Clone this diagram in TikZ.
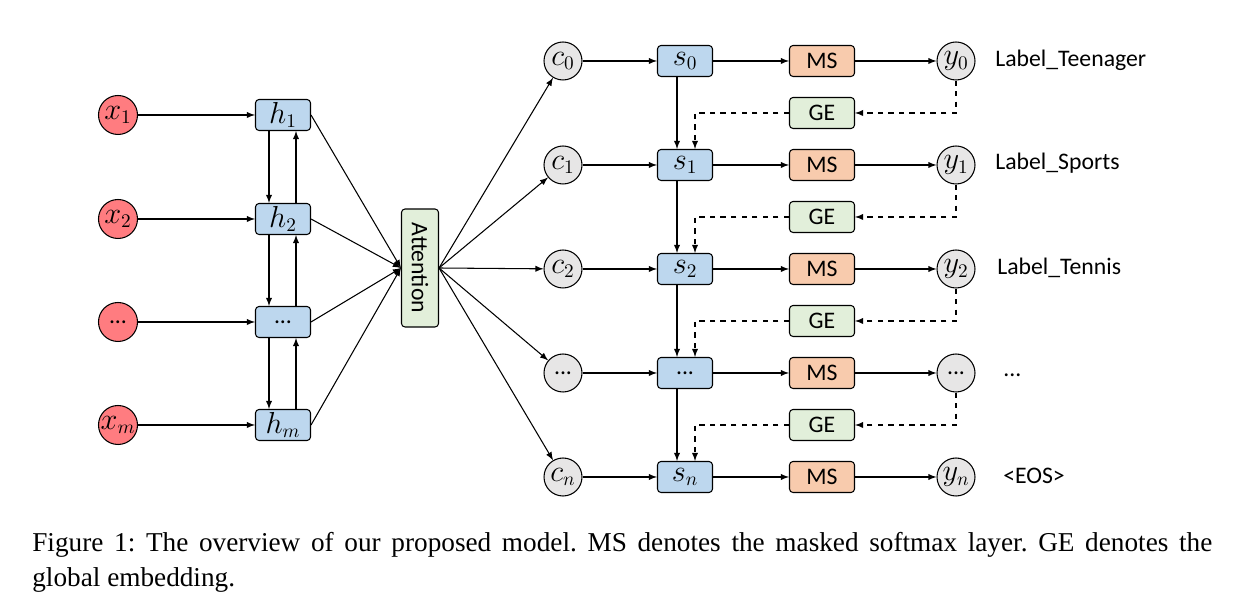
\documentclass[tikz,border=0pt]{standalone}
\usepackage{fontspec}
\setmainfont{Carlito}
\newfontfamily\capfont{Liberation Serif}
\definecolor{xred}{RGB}{255,124,128}
\definecolor{hblue}{RGB}{189,215,238}
\definecolor{attgreen}{RGB}{226,239,218}
\definecolor{msorange}{RGB}{248,203,173}
\definecolor{cgray}{RGB}{231,230,230}
\frenchspacing

\begin{document}
\begin{tikzpicture}[
	every node/.style={font=\fontsize{13.5}{15}\selectfont},
	mfont/.style={font=\fontsize{16}{18}\selectfont},
	inp/.style={circle, draw, line width=0.6pt, fill=xred, minimum size=0.78cm, inner sep=0pt},
	ctx/.style={circle, draw, line width=0.6pt, fill=cgray, minimum size=0.76cm, inner sep=0pt},
	hid/.style={draw, line width=0.6pt, rounded corners=2pt, fill=hblue, minimum width=1.1cm, minimum height=0.62cm, inner sep=0pt},
	msbox/.style={hid, fill=msorange, minimum width=1.3cm},
	gebox/.style={hid, fill=attgreen, minimum width=1.3cm},
	lbl/.style={anchor=west, inner sep=0pt},
	arr/.style={-latex, line width=0.6pt},
	dasharr/.style={arr, dashed}
	]
	\useasboundingbox (0,0) rectangle (24.76,12.24);
	%% encoder
	\node[inp, mfont] (x1) at (2.36,9.94) {$x_1$};
	\node[inp, mfont] (x2) at (2.36,7.86) {$x_2$};
	\node[inp] (x3) at (2.36,5.80) {...};
	\node[inp, mfont] (xm) at (2.36,3.74) {$x_m$};
	\node[hid, mfont] (h1) at (5.66,9.94) {$h_1$};
	\node[hid, mfont] (h2) at (5.66,7.86) {$h_2$};
	\node[hid] (h3) at (5.66,5.80) {...};
	\node[hid, mfont] (hm) at (5.66,3.74) {$h_m$};
	\draw[arr] (x1) -- (h1);
	\draw[arr] (x2) -- (h2);
	\draw[arr] (x3) -- (h3);
	\draw[arr] (xm) -- (hm);
	\draw[arr] ([xshift=-0.28cm]h1.south) -- ([xshift=-0.28cm]h2.north);
	\draw[arr] ([xshift=-0.28cm]h2.south) -- ([xshift=-0.28cm]h3.north);
	\draw[arr] ([xshift=-0.28cm]h3.south) -- ([xshift=-0.28cm]hm.north);
	\draw[arr] ([xshift=0.26cm]h2.north) -- ([xshift=0.26cm]h1.south);
	\draw[arr] ([xshift=0.26cm]h3.north) -- ([xshift=0.26cm]h2.south);
	\draw[arr] ([xshift=0.26cm]hm.north) -- ([xshift=0.26cm]h3.south);
	%
	\node[draw, line width=0.6pt, rounded corners=2pt, fill=attgreen, minimum width=0.74cm, minimum height=2.36cm, inner sep=0pt]
		(att) at (8.40,6.88) {\rotatebox{-90}{Attention}};
	\draw[arr] (h1.east) -- (att.west);
	\draw[arr] (h2.east) -- (att.west);
	\draw[arr] (h3.east) -- (att.west);
	\draw[arr] (hm.east) -- (att.west);
	%% decoder
	\node[ctx, mfont] (c0) at (11.26,11.02) {$c_0$};
	\node[ctx, mfont] (c1) at (11.26,8.94) {$c_1$};
	\node[ctx, mfont] (c2) at (11.26,6.86) {$c_2$};
	\node[ctx] (c3) at (11.26,4.78) {...};
	\node[ctx, mfont] (cn) at (11.26,2.70) {$c_n$};
	\draw[arr] (att.east) -- (c0);
	\draw[arr] (att.east) -- (c1);
	\draw[arr] (att.east) -- (c2);
	\draw[arr] (att.east) -- (c3);
	\draw[arr] (att.east) -- (cn);
	\node[hid, mfont] (s0) at (13.70,11.02) {$s_0$};
	\node[hid, mfont] (s1) at (13.70,8.94) {$s_1$};
	\node[hid, mfont] (s2) at (13.70,6.86) {$s_2$};
	\node[hid] (s3) at (13.70,4.78) {...};
	\node[hid, mfont] (sn) at (13.70,2.70) {$s_n$};
	\node[msbox] (ms0) at (16.44,11.02) {MS};
	\node[msbox] (ms1) at (16.44,8.94) {MS};
	\node[msbox] (ms2) at (16.44,6.86) {MS};
	\node[msbox] (ms3) at (16.44,4.78) {MS};
	\node[msbox] (msn) at (16.44,2.70) {MS};
	\node[ctx, mfont] (y0) at (19.12,11.02) {$y_0$};
	\node[ctx, mfont] (y1) at (19.12,8.94) {$y_1$};
	\node[ctx, mfont] (y2) at (19.12,6.86) {$y_2$};
	\node[ctx] (y3) at (19.12,4.78) {...};
	\node[ctx, mfont] (yn) at (19.12,2.70) {$y_n$};
	\node[gebox] (ge1) at (16.44,9.98) {GE};
	\node[gebox] (ge2) at (16.44,7.90) {GE};
	\node[gebox] (ge3) at (16.44,5.82) {GE};
	\node[gebox] (gen) at (16.44,3.74) {GE};
	\draw[arr] (c0) -- (s0); \draw[arr] (s0) -- (ms0); \draw[arr] (ms0) -- (y0);
	\draw[arr] (c1) -- (s1); \draw[arr] (s1) -- (ms1); \draw[arr] (ms1) -- (y1);
	\draw[arr] (c2) -- (s2); \draw[arr] (s2) -- (ms2); \draw[arr] (ms2) -- (y2);
	\draw[arr] (c3) -- (s3); \draw[arr] (s3) -- (ms3); \draw[arr] (ms3) -- (y3);
	\draw[arr] (cn) -- (sn); \draw[arr] (sn) -- (msn); \draw[arr] (msn) -- (yn);
	\draw[arr] ([xshift=-0.16cm]s0.south) -- ([xshift=-0.16cm]s1.north);
	\draw[arr] ([xshift=-0.16cm]s1.south) -- ([xshift=-0.16cm]s2.north);
	\draw[arr] ([xshift=-0.16cm]s2.south) -- ([xshift=-0.16cm]s3.north);
	\draw[arr] ([xshift=-0.16cm]s3.south) -- ([xshift=-0.16cm]sn.north);
	%% global embedding feedback
	\draw[dasharr] (y0.south) |- (ge1.east);
	\draw[dasharr] (y1.south) |- (ge2.east);
	\draw[dasharr] (y2.south) |- (ge3.east);
	\draw[dasharr] (y3.south) |- (gen.east);
	\draw[dasharr] (ge1.west) -| ([xshift=0.20cm]s1.north);
	\draw[dasharr] (ge2.west) -| ([xshift=0.20cm]s2.north);
	\draw[dasharr] (ge3.west) -| ([xshift=0.20cm]s3.north);
	\draw[dasharr] (gen.west) -| ([xshift=0.20cm]sn.north);
	%% labels
	\node[lbl] (lab0) at (19.90,11.04) {Label\_Teenager};
	\node[lbl] (lab1) at (19.90,8.98) {Label\_Sports};
	\node[lbl] (lab2) at (19.94,6.88) {Label\_Tennis};
	\node[lbl] (lab3) at (20.06,4.74) {...};
	\node[lbl] (labn) at (20.06,2.72) {<EOS>};
	%% caption
	\node[anchor=base west, inner sep=0pt, font=\capfont\fontsize{15.5}{18}\selectfont] (cap1) at (0.64,1.20)
		{\makebox[23.6cm][s]{Figure 1: The overview of our proposed model. MS denotes the masked softmax layer. GE denotes the}};
	\node[anchor=base west, inner sep=0pt, font=\capfont\fontsize{15.5}{18}\selectfont] (cap2) at (0.64,0.50)
		{global embedding.};
\end{tikzpicture}
\end{document}
